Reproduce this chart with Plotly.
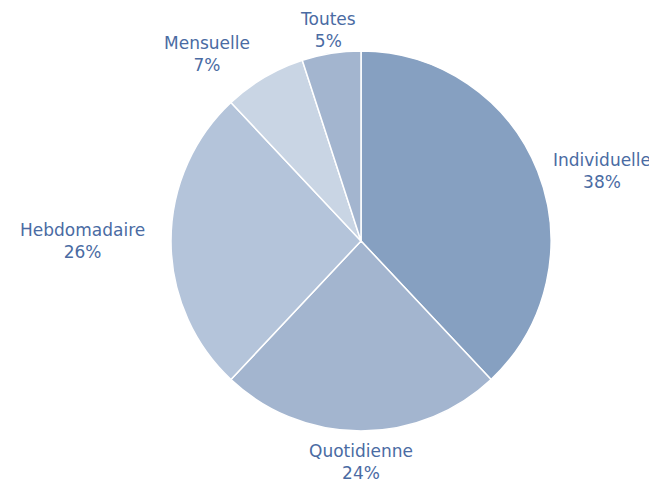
import math
import plotly.graph_objects as go

labels = ["Individuelle", "Quotidienne", "Hebdomadaire", "Mensuelle", "Toutes"]
values = [38, 24, 26, 7, 5]
colors = ["#86a0c1", "#a3b5cf", "#b4c4da", "#c9d5e4", "#a3b5cf"]

# the page body adds an 8px margin, so the figure is drawn 8px in from the window corner
W, H = 649, 474
CX, CY, R = 353, 233, 190    # pie centre / radius in figure pixels
GX_RIGHT, GX_LEFT = 14, 24   # horizontal label offset from the rim (right / left half)
GY_UP, GY_DOWN = 0, 8        # vertical label offset (upper / lower half)

fig = go.Figure(go.Pie(
    labels=labels,
    values=values,
    sort=False,
    direction="clockwise",
    rotation=0,
    marker=dict(colors=colors, line=dict(color="white", width=1.5)),
    textinfo="none",
    showlegend=False,
    hoverinfo="label+percent",
    domain=dict(x=[(CX - R) / W, (CX + R) / W], y=[(H - CY - R) / H, (H - CY + R) / H]),
))

total = sum(values)
cum = 0
annotations = []
for lab, v in zip(labels, values):
    mid = (cum + v / 2) / total * 2 * math.pi
    cum += v
    s, c = math.sin(mid), math.cos(mid)
    gx = GX_RIGHT if s > 0 else GX_LEFT
    gy = GY_UP if c > 0 else GY_DOWN
    px = CX + (R + gx) * s
    py = CY - (R + gy) * c
    xa = "left" if s > 0.3 else ("right" if s < -0.3 else "center")
    ya = "bottom" if c > 0.5 else ("top" if c < -0.5 else "middle")
    pct = round(v / total * 100)
    annotations.append(dict(
        x=px / W, y=1 - py / H, xref="paper", yref="paper",
        xanchor=xa, yanchor=ya, showarrow=False,
        text=f"{lab}<br>{pct}%", align="center",
        font=dict(family="DejaVu Sans", size=17, color="#4a6ba3"),
    ))

fig.update_layout(
    width=W, height=H,
    margin=dict(l=0, r=0, t=0, b=0),
    paper_bgcolor="white",
    plot_bgcolor="white",
    annotations=annotations,
)

fig.write_html("out.html")
